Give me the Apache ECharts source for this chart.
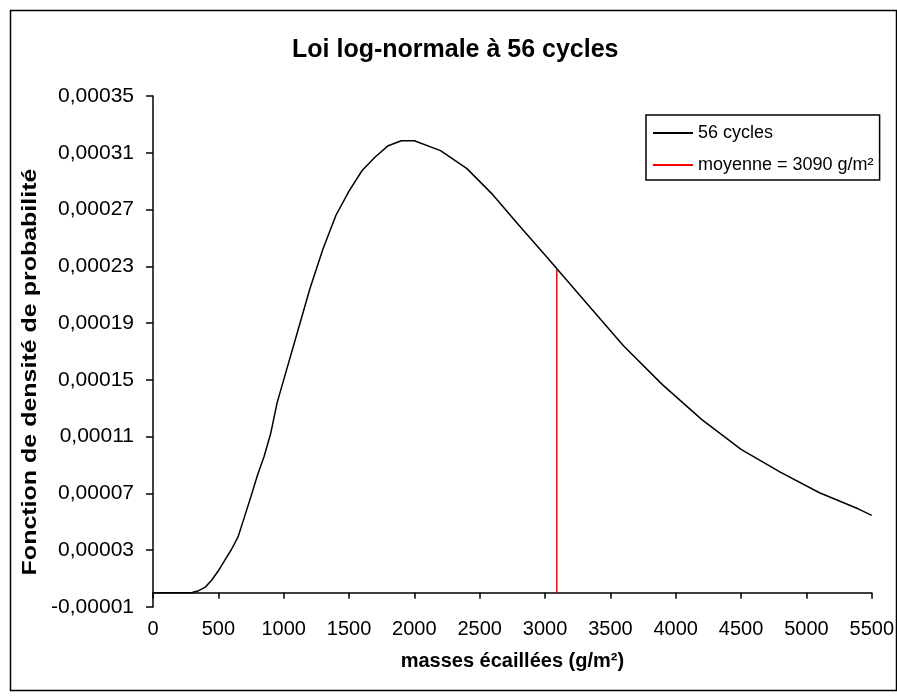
<!DOCTYPE html>
<html>
<head>
<meta charset="utf-8">
<script src="https://cdn.jsdelivr.net/npm/echarts@6/dist/echarts.min.js"></script>
<style>
html,body{margin:0;padding:0;background:#fff;}
#chart{width:897px;height:697px;}
</style>
</head>
<body>
<div id="chart"></div>
<script>
// ---- data ----
const chartTitle = 'Loi log-normale à 56 cycles';
const xAxisTitle = 'masses écaillées (g/m²)';
const yAxisTitle = 'Fonction de densité de probabilité';
const seriesName = '56 cycles';
const meanName = 'moyenne = 3090 g/m²';

const massX = [0, 100, 200, 300, 350, 400, 450, 500, 550, 600, 650, 700, 750, 800, 850, 900, 950, 1000,
  1100, 1200, 1300, 1400, 1500, 1600, 1700, 1800, 1900, 2000, 2200, 2400, 2600, 2800, 3000,
  3300, 3600, 3900, 4200, 4500, 4800, 5100, 5400, 5500];
const density = [0, 0, 0, 0.0000002, 0.0000015, 0.000004, 0.000009, 0.0000155, 0.000023, 0.0000305,
  0.0000392, 0.0000535, 0.000068, 0.000083, 0.000096, 0.000112, 0.000134, 0.000150,
  0.000182, 0.000214, 0.000242, 0.000266, 0.000283, 0.0002975, 0.000307, 0.000315, 0.0003185,
  0.0003185, 0.0003115, 0.000299, 0.0002805, 0.000259, 0.000238,
  0.000206, 0.000174, 0.0001465, 0.000122, 0.000101, 0.000085, 0.0000705, 0.000059, 0.0000545];

const meanMass = 3090;
const meanDensity = 0.000228;

const xTicks = [0, 500, 1000, 1500, 2000, 2500, 3000, 3500, 4000, 4500, 5000, 5500];
const yTicks = [-0.00001, 0.00003, 0.00007, 0.00011, 0.00015, 0.00019, 0.00023, 0.00027, 0.00031, 0.00035];

// ---- chart ----
const FONT = 'Liberation Sans, Arial, sans-serif';
const chart = echarts.init(document.getElementById('chart'), null, {renderer: 'canvas'});

const curveData = massX.map((x, i) => [x, density[i]]);
const meanData = [[meanMass, 0], [meanMass, meanDensity]];

chart.setOption({
  animation: false,
  backgroundColor: '#ffffff',
  textStyle: {fontFamily: FONT},
  title: {
    text: chartTitle,
    left: 292,
    top: 38,
    padding: 0,
    textStyle: {fontFamily: FONT, fontSize: 25, fontWeight: 'bold', color: '#000'}
  },
  legend: {
    orient: 'vertical',
    left: 646,
    top: 115,
    padding: [9, 6, 6, 7],
    itemGap: 14,
    itemWidth: 40,
    itemHeight: 2,
    borderColor: '#000',
    borderWidth: 1.5,
    textStyle: {fontFamily: FONT, fontSize: 18, color: '#000'},
    data: [
      {name: seriesName, icon: 'rect'},
      {name: meanName, icon: 'rect'}
    ]
  },
  grid: {left: 153, right: 25, top: 96, bottom: 90, containLabel: false},
  xAxis: {
    type: 'value',
    min: 0,
    max: 5500,
    interval: 500,
    name: xAxisTitle,
    nameLocation: 'middle',
    nameGap: 44,
    nameTextStyle: {fontFamily: FONT, fontSize: 20, fontWeight: 'bold', color: '#000'},
    axisLine: {show: true, onZero: true, lineStyle: {color: '#000', width: 1.5}},
    axisTick: {show: true, length: 6, lineStyle: {color: '#000', width: 1.5},
      customValues: xTicks},
    axisLabel: {fontFamily: FONT, fontSize: 20, color: '#000', margin: 12,
      customValues: xTicks,
      formatter: v => String(v)},
    splitLine: {show: false}
  },
  yAxis: {
    type: 'value',
    min: yTicks[0],
    max: yTicks[yTicks.length - 1],
    axisLine: {show: true, lineStyle: {color: '#000', width: 1.5}},
    axisTick: {show: true, length: 7, lineStyle: {color: '#000', width: 1.5},
      customValues: yTicks},
    axisLabel: {fontFamily: FONT, fontSize: 21, color: '#000', margin: 19,
      customValues: yTicks,
      formatter: v => v.toFixed(5).replace('.', ',')},
    splitLine: {show: false}
  },
  graphic: [
    {
      type: 'rect',
      left: 8, top: 8,
      shape: {width: 886, height: 680},
      style: {fill: null, stroke: '#000', lineWidth: 1.5},
      silent: true,
      z: -1
    },
    {
      type: 'text',
      x: 30,
      y: 372,
      rotation: Math.PI / 2,
      scaleX: 1.19,
      style: {
        text: yAxisTitle,
        font: 'bold 21px "Liberation Sans", Arial, sans-serif',
        fill: '#000',
        align: 'center',
        verticalAlign: 'middle'
      },
      silent: true
    }
  ],
  series: [
    {
      name: seriesName,
      type: 'line',
      data: curveData,
      showSymbol: false,
      symbol: 'none',
      color: '#000',
      lineStyle: {color: '#000', width: 1.5},
      z: 3
    },
    {
      name: meanName,
      type: 'line',
      data: meanData,
      showSymbol: false,
      symbol: 'none',
      color: '#ff0000',
      lineStyle: {color: '#ff0000', width: 1.5},
      z: 2
    }
  ]
});
</script>
</body>
</html>
